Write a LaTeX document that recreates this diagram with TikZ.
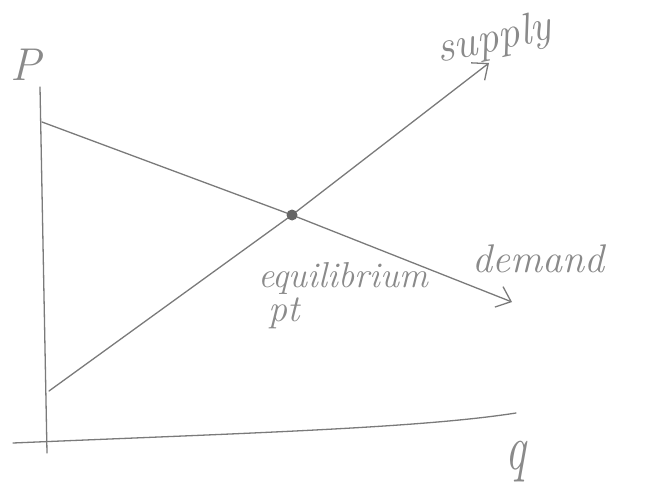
\documentclass[tikz,border=0pt]{standalone}
\usepackage{graphicx}
\usetikzlibrary{arrows.meta}
\definecolor{pen}{HTML}{7A7A7A}
\definecolor{ink}{HTML}{8A8A8A}
\definecolor{blob}{HTML}{666666}
\begin{document}
\begin{tikzpicture}[x=1pt,y=-1pt,
  curve/.style={draw=pen, line width=1.3pt, line cap=round, line join=round},
  arrowed/.style={curve, -{Straight Barb[length=13pt,width=22pt,line width=1.3pt]}},
  hand/.style={text=ink, inner sep=0pt}]
\useasboundingbox (0,0) rectangle (647,489);
\coordinate (ytop) at (40,87);
\coordinate (ybot) at (47,453);
\coordinate (xl) at (13,443);
\coordinate (xr) at (516,413);
\coordinate (s0) at (49,391);
\coordinate (s1) at (489,63);
\coordinate (d0) at (42,122);
\coordinate (d1) at (512,302);
\coordinate (eq) at (292,215);
\draw[curve] (ytop) -- (ybot);
\draw[curve] (xl) .. controls (250,433) and (420,428) .. (xr);
\draw[arrowed] (s0) -- (eq) -- (s1);
\draw[arrowed] (d0) -- (eq) -- (d1);
\fill[blob] (eq) circle (5.5pt);
\node[hand, font=\itshape\fontsize{46}{50}\selectfont] (plabel) at (26,65) {P};
\node[hand, font=\itshape\fontsize{46}{50}\selectfont] (qlabel) at (516,462) {\scalebox{1}[1.4]{q}};
\node[hand, font=\itshape\fontsize{44}{50}\selectfont, rotate=12] (slabel) at (494,40) {supply};
\node[hand, font=\itshape\fontsize{36}{40}\selectfont, anchor=base west] (elabel) at (258,287) {equilibrium};
\node[hand, font=\itshape\fontsize{38}{44}\selectfont, anchor=base west] (ptlabel) at (268,321) {pt};
\node[hand, font=\itshape\fontsize{40}{44}\selectfont, anchor=base west] (dlabel) at (472,272) {demand};
\end{tikzpicture}
\end{document}
